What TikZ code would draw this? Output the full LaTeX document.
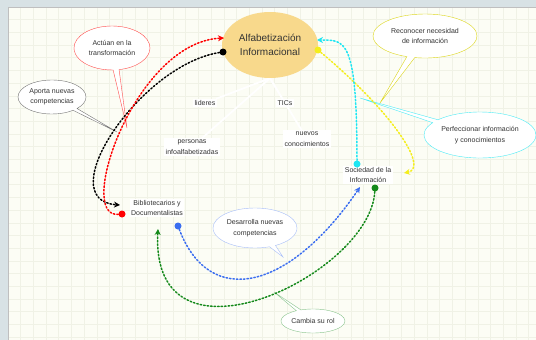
\documentclass[tikz,border=0pt]{standalone}
\usepackage{fontspec}
\setmainfont{Liberation Sans}
\usetikzlibrary{shapes.geometric,shapes.callouts,arrows.meta}

\definecolor{marco}{HTML}{D8E2E5}
\definecolor{papel}{HTML}{FCFDF5}
\definecolor{rejilla}{HTML}{F0F2E6}
\definecolor{tema}{HTML}{F8D98C}
\definecolor{texto}{HTML}{333333}
\definecolor{cian}{HTML}{1EE6F2}
\definecolor{amarillo}{HTML}{F4EE1C}
\definecolor{azul}{HTML}{3B6EF0}
\definecolor{verde}{HTML}{14891A}

\pgfdeclarelayer{fondo}
\pgfdeclarelayer{rayas}
\pgfsetlayers{fondo,rayas,main}

\tikzset{
  etiqueta/.style={fill=white,text=texto,align=center,inner sep=1.5pt,
    font=\fontsize{7}{10.5}\selectfont},
  globo/.style={ellipse callout,draw=#1,fill=white,text=texto,align=center,
    inner sep=0pt,callout pointer arc=9,
    font=\fontsize{7}{10.5}\selectfont},
  punto/.style={circle,fill=#1,inner sep=0pt,minimum size=7pt},
  enlace/.style={#1,dotted,line width=1.5pt,line cap=round,
    -{Stealth[length=6pt,width=6pt]}},
}

\begin{document}
\begin{tikzpicture}[x=1pt,y=-1pt]
\useasboundingbox (0,0) rectangle (536,340);
%frame and grid paper
\begin{pgfonlayer}{fondo}
\fill[marco] (0,0) rectangle (536,340);
\fill[papel] (8,7) rectangle (536,340);
\foreach \i in {1,...,41}
  \draw[rejilla,line width=0.8pt] (8+12.7*\i,7) -- (8+12.7*\i,340);
\foreach \j in {1,...,26}
  \draw[rejilla,line width=0.8pt] (8,7+12.7*\j) -- (536,7+12.7*\j);
\draw[black!25,line width=0.5pt] (8,340) -- (8,7) -- (536,7);
\end{pgfonlayer}

%central idea
\node[ellipse,fill=tema,minimum width=96pt,minimum height=66pt,inner sep=0pt,
  text=texto,align=center,font=\fontsize{10}{14.5}\selectfont]
  (alfa) at (270,45) {Alfabetización\\Informacional};

%labels around it
\node[etiqueta] (lideres) at (205,103) {lideres};
\node[etiqueta] (tics) at (285,103) {TICs};
\node[etiqueta] (personas) at (192,147) {personas\\infoalfabetizadas};
\node[etiqueta] (nuevos) at (307,139) {nuevos\\conocimientos};
\begin{pgfonlayer}{rayas}
\foreach \n in {lideres,tics,personas,nuevos}
  \draw[white,line width=1.8pt] (alfa.south) -- (\n);
\end{pgfonlayer}
\node[etiqueta] (biblio) at (157,208) {Bibliotecarios y\\Documentalistas};
\node[etiqueta] (socie) at (368,175) {Sociedad de la\\Información};

%tips of the callouts
\coordinate (pActuan) at (127,128);
\coordinate (pAporta) at (117,132);
\coordinate (pReconocer) at (380,103);
\coordinate (pPerfec) at (360,98);
\coordinate (pDesarrolla) at (283,257);
\coordinate (pCambia) at (274,292);

\node[globo=red!70,minimum width=76pt,minimum height=44pt,
  callout absolute pointer=(pActuan)] (actuan) at (112,48)
  {Actúan en la\\transformación};
\node[globo=black!55,minimum width=68pt,minimum height=34pt,
  callout absolute pointer=(pAporta)] (aporta) at (52,97)
  {Aporta nuevas\\competencias};
\node[globo=amarillo!90!black,minimum width=104pt,minimum height=44pt,
  callout absolute pointer=(pReconocer)] (reconocer) at (425,36)
  {Reconocer necesidad\\de información};
\node[globo=cian!80!white,minimum width=112pt,minimum height=46pt,
  callout absolute pointer=(pPerfec)] (perfec) at (480,135)
  {Perfeccionar información\\y conocimientos};
\node[globo=azul!45,minimum width=84pt,minimum height=40pt,
  callout absolute pointer=(pDesarrolla)] (desarrolla) at (255,228)
  {Desarrolla nuevas\\competencias};
\node[globo=verde!50,minimum width=64pt,minimum height=24pt,
  callout absolute pointer=(pCambia)] (cambia) at (313,321)
  {Cambia su rol};

%starting dots
\node[punto=black] (dNegro) at (223,52) {};
\node[punto=red] (dRojo) at (122,214) {};
\node[punto=amarillo] (dAmarillo) at (318,50) {};
\node[punto=cian] (dCian) at (357,164) {};
\node[punto=verde] (dVerde) at (375,188) {};
\node[punto=azul] (dAzul) at (178,226) {};

%arrow ends
\coordinate (fRojo) at (224,38);
\coordinate (fNegro) at (120,205);
\coordinate (fAmarillo) at (404,173);
\coordinate (fCian) at (317,40);
\coordinate (fAzul) at (360,187);
\coordinate (fVerde) at (158,229);

%dotted relations
\draw[enlace=black] (dNegro) .. controls (140,65) and (50,200) .. (fNegro);
\draw[enlace=red] (dRojo) .. controls (75,218) and (135,42) .. (fRojo);
\draw[enlace=amarillo] (dAmarillo) .. controls (390,110) and (430,168) .. (fAmarillo);
\draw[enlace=cian] (dCian) .. controls (357,38) and (345,40) .. (fCian);
\draw[enlace=azul] (dAzul) .. controls (210,310) and (290,290) .. (fAzul);
\draw[enlace=verde] (dVerde) .. controls (370,275) and (150,380) .. (fVerde);
\end{tikzpicture}
\end{document}
